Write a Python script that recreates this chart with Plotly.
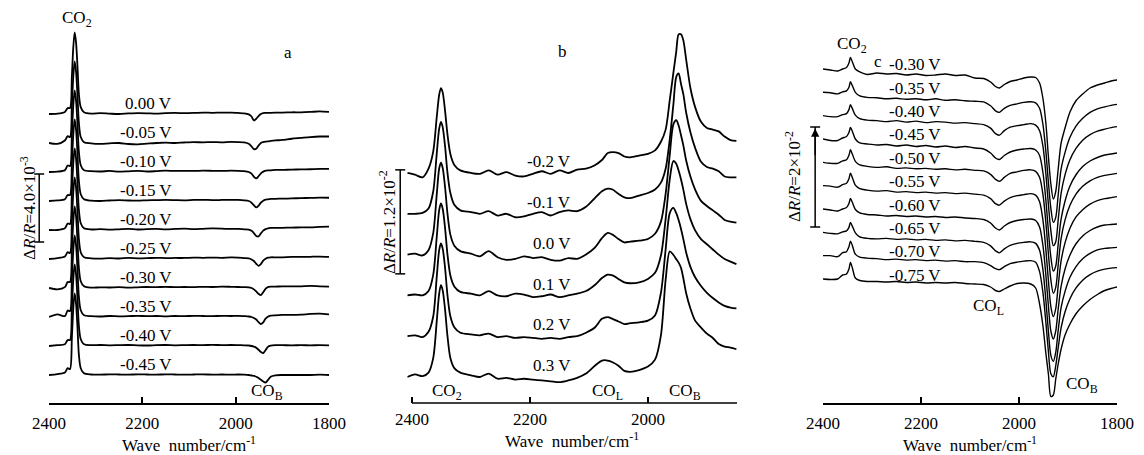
import numpy as np
import plotly.graph_objects as go

# ---------------- data (dR/R in units of 1e-3, relative to each spectrum's own start) ----------------
# Panel a
wn_a = [2400, 2382, 2366, 2360, 2355, 2351, 2348, 2345, 2342, 2339, 2336, 2332, 2325,
        2310, 2290, 2270, 2250, 2230, 2210, 2190, 2170, 2150, 2130, 2110, 2090, 2070, 2050, 2030, 2010, 1995,
        1982, 1972, 1966, 1961, 1956, 1951, 1946, 1941, 1936, 1931, 1925, 1915, 1900, 1880, 1860, 1840, 1820, 1800]
labels_a = ["0.00 V", "-0.05 V", "-0.10 V", "-0.15 V", "-0.20 V",
            "-0.25 V", "-0.30 V", "-0.35 V", "-0.40 V", "-0.45 V"]
a_0p00 = [0.0, 0.02, 0.12, 0.35, 0.35, 2.2, 3.9, 4.8, 4.2, 2.8, 1.2, 0.4, 0.1,
          0.02, 0.05, 0.02, 0.0, 0.03, 0.05, 0.04, 0.02, 0.05, 0.06, 0.05, 0.06, 0.08, 0.07, 0.08, 0.08, 0.06,
          0.04, -0.02, -0.15, -0.38, -0.28, -0.12, 0.0, 0.05, 0.06, 0.06, 0.07, 0.08, 0.08, 0.1, 0.1, 0.12, 0.15, 0.12]
a_m0p05 = [0.0, -0.05, 0.15, 0.4, 0.35, 2.2, 3.9, 4.8, 4.2, 2.8, 1.2, 0.35, 0.05,
           -0.02, -0.05, -0.02, 0.0, -0.06, -0.08, -0.04, 0.0, 0.02, 0.0, 0.03, 0.05, 0.04, 0.05, 0.04, 0.06, 0.05,
           0.03, -0.05, -0.2, -0.36, -0.34, -0.15, 0.0, 0.05, 0.08, 0.1, 0.12, 0.15, 0.18, 0.25, 0.3, 0.35, 0.38, 0.38]
a_m0p10 = [0.0, 0.02, 0.1, 0.38, 0.35, 2.2, 3.9, 4.8, 4.2, 2.8, 1.2, 0.4, 0.1,
           0.05, 0.03, 0.06, 0.02, 0.04, 0.06, 0.03, 0.05, 0.08, 0.06, 0.07, 0.06, 0.08, 0.07, 0.06, 0.08, 0.07,
           0.05, 0.0, -0.1, -0.28, -0.38, -0.25, -0.08, 0.02, 0.08, 0.1, 0.1, 0.12, 0.12, 0.14, 0.15, 0.16, 0.18, 0.18]
a_m0p15 = [0.0, 0.03, 0.1, 0.35, 0.35, 2.2, 3.9, 4.8, 4.2, 2.8, 1.2, 0.4, 0.1,
           0.02, 0.0, 0.03, 0.05, 0.03, 0.02, 0.04, 0.05, 0.06, 0.05, 0.04, 0.06, 0.07, 0.05, 0.06, 0.07, 0.06,
           0.04, 0.0, -0.1, -0.25, -0.38, -0.28, -0.1, 0.02, 0.08, 0.1, 0.12, 0.13, 0.14, 0.15, 0.17, 0.18, 0.2, 0.19]
a_m0p20 = [0.0, 0.0, 0.1, 0.38, 0.35, 2.2, 3.9, 4.8, 4.2, 2.8, 1.2, 0.4, 0.1,
           0.03, 0.05, 0.02, 0.04, 0.06, 0.03, 0.05, 0.06, 0.04, 0.06, 0.08, 0.05, 0.07, 0.09, 0.08, 0.06, 0.07,
           0.04, 0.02, -0.05, -0.18, -0.35, -0.38, -0.2, -0.04, 0.05, 0.1, 0.12, 0.12, 0.13, 0.14, 0.15, 0.15, 0.18, 0.2]
a_m0p25 = [0.0, 0.05, 0.15, 0.4, 0.35, 2.2, 3.9, 4.8, 4.2, 2.8, 1.2, 0.4, 0.1,
           0.04, 0.02, 0.05, 0.03, 0.06, 0.04, 0.05, 0.07, 0.05, 0.06, 0.06, 0.08, 0.07, 0.08, 0.07, 0.09, 0.08,
           0.05, 0.03, -0.03, -0.12, -0.28, -0.4, -0.3, -0.1, 0.02, 0.08, 0.1, 0.1, 0.1, 0.12, 0.12, 0.13, 0.14, 0.12]
a_m0p30 = [0.0, -0.08, 0.05, 0.35, 0.35, 2.2, 3.9, 4.8, 4.2, 2.8, 1.2, 0.4, 0.1,
           0.02, 0.04, 0.03, 0.05, 0.02, 0.04, 0.06, 0.05, 0.07, 0.05, 0.06, 0.05, 0.07, 0.06, 0.08, 0.07, 0.06,
           0.05, 0.04, 0.0, -0.08, -0.2, -0.34, -0.42, -0.25, -0.05, 0.05, 0.08, 0.08, 0.1, 0.1, 0.1, 0.12, 0.1, 0.08]
a_m0p35 = [0.0, 0.15, 0.05, 0.38, 0.35, 2.2, 3.9, 4.8, 4.2, 2.8, 1.2, 0.4, 0.1,
           0.05, 0.03, 0.06, 0.04, 0.05, 0.07, 0.05, 0.06, 0.04, 0.06, 0.05, 0.07, 0.06, 0.05, 0.07, 0.06, 0.07,
           0.05, 0.03, 0.0, -0.06, -0.15, -0.3, -0.42, -0.32, -0.1, 0.02, 0.08, 0.1, 0.12, 0.12, 0.14, 0.18, 0.2, 0.15]
a_m0p40 = [0.0, 0.05, 0.1, 0.35, 0.35, 2.2, 3.9, 4.8, 4.2, 2.8, 1.2, 0.4, 0.1,
           0.05, 0.06, 0.04, 0.05, 0.06, 0.04, 0.03, 0.05, 0.06, 0.04, 0.05, 0.06, 0.05, 0.07, 0.05, 0.06, 0.05,
           0.04, 0.03, 0.0, -0.04, -0.1, -0.22, -0.35, -0.42, -0.25, -0.05, 0.02, 0.05, 0.05, 0.04, 0.05, 0.04, 0.05, 0.04]
a_m0p45 = [0.0, 0.05, 0.15, 0.4, 0.35, 2.2, 3.9, 4.8, 4.2, 2.8, 1.2, 0.4, 0.1,
           0.03, 0.02, 0.04, 0.03, 0.02, 0.04, 0.03, 0.02, 0.04, 0.03, 0.02, 0.03, 0.04, 0.02, 0.03, 0.02, 0.03,
           0.02, 0.0, -0.03, -0.05, -0.1, -0.18, -0.28, -0.38, -0.45, -0.3, -0.1, -0.02, 0.0, 0.0, 0.0, 0.0, 0.02, 0.0]

# Panel b
wn_b = [2408, 2395, 2382, 2372, 2364, 2358, 2354, 2351, 2348, 2344, 2340, 2335, 2328, 2318,
        2300, 2285, 2270, 2255, 2240, 2225, 2210, 2195, 2180, 2165, 2150, 2135, 2120, 2105,
        2090, 2078, 2068, 2060, 2050, 2040, 2030, 2015, 2000, 1988,
        1978, 1970, 1963, 1957, 1952, 1948, 1944, 1940, 1935, 1928, 1920, 1910, 1900, 1890, 1880, 1870, 1860, 1850]
labels_b = ["-0.2 V", "-0.1 V", "0.0 V", "0.1 V", "0.2 V", "0.3 V"]
b_m0p2 = [0.0, -0.2, -0.5, 0.5, 2.5, 6.5, 9.0, 9.8, 9.3, 7.2, 4.5, 2.2, 0.9, 0.3,
          0.0, -0.1, 0.3, -0.2, 0.1, -0.3, -0.4, -0.1, 0.2, -0.1, 0.3, 0.0, 0.4, 0.5,
          0.9, 1.5, 2.3, 2.4, 2.3, 1.9, 1.8, 2.0, 2.2, 2.6,
          3.6, 5.0, 8.4, 11.5, 14.0, 16.0, 16.0, 15.3, 13.0, 9.8, 7.6, 5.9, 5.2, 5.0, 4.8, 4.2, 3.8, 3.7]
b_m0p1 = [0.0, 0.0, 0.1, 0.6, 2.6, 7.0, 9.8, 10.6, 10.0, 7.8, 4.8, 2.4, 1.0, 0.4,
          0.2, 0.0, 0.3, -0.2, 0.0, -0.4, -0.3, 0.0, 0.2, -0.2, 0.2, 0.4, 0.3, 0.8,
          1.8, 2.6, 2.9, 2.8, 2.3, 1.9, 1.8, 2.1, 2.4, 2.8,
          3.6, 5.2, 8.6, 12.5, 15.8, 16.2, 15.0, 13.8, 11.6, 9.4, 7.6, 6.0, 5.4, 5.2, 4.9, 4.3, 4.2, 4.2]
b_0p0 = [0.0, 0.1, -0.1, 0.5, 2.5, 7.0, 9.9, 10.6, 10.0, 7.8, 4.8, 2.3, 1.0, 0.4,
         0.1, -0.2, 0.4, -0.3, -0.6, -0.5, -0.2, -0.4, -0.3, -0.6, -0.7, -0.4, -0.5, 0.0,
         0.8, 1.9, 2.5, 2.3, 1.8, 1.4, 1.5, 1.6, 1.8, 2.4,
         3.8, 7.0, 11.5, 15.0, 15.5, 14.9, 13.8, 12.6, 10.8, 9.0, 7.5, 6.2, 5.6, 5.1, 4.6, 4.0, 3.8, 3.7]
b_0p1 = [0.0, 0.1, 0.0, 0.5, 2.4, 6.8, 9.8, 10.6, 10.0, 7.8, 4.8, 2.3, 1.0, 0.4,
         0.2, 0.0, 0.5, 0.0, -0.1, 0.2, 0.1, -0.2, -0.1, 0.1, -0.2, 0.0, 0.2, 0.5,
         1.2, 2.0, 2.4, 2.3, 1.9, 1.5, 1.4, 1.5, 1.9, 2.6,
         4.6, 8.8, 13.4, 15.5, 15.2, 14.4, 13.4, 12.2, 10.5, 8.8, 7.5, 6.5, 5.9, 5.3, 4.7, 4.2, 3.9, 3.6]
b_0p2 = [0.0, 0.1, -0.1, 0.5, 2.3, 6.9, 9.9, 10.7, 10.1, 7.9, 4.8, 2.3, 1.0, 0.4,
         0.2, 0.1, 0.3, -0.1, 0.0, -0.2, -0.1, -0.2, -0.3, -0.2, -0.3, -0.1, 0.0, 0.4,
         1.0, 2.0, 2.2, 2.0, 1.7, 1.4, 1.5, 1.6, 1.8, 2.4,
         5.0, 10.0, 14.2, 14.8, 14.2, 13.4, 12.4, 11.2, 9.6, 8.0, 6.8, 5.8, 5.0, 4.4, 3.9, 3.5, 3.3, 3.2]
b_0p3 = [0.0, 0.3, 0.1, 0.5, 2.2, 6.5, 9.6, 10.6, 10.0, 7.8, 4.8, 2.2, 1.0, 0.5,
         0.2, 0.0, 0.4, -0.2, -0.1, -0.3, -0.2, -0.3, -0.4, -0.5, -0.6, -0.4, -0.1, 0.4,
         1.3, 1.9, 1.9, 1.7, 1.3, 0.7, 0.6, 0.8, 1.2, 2.0,
         4.8, 11.2, 14.5, 14.1, 13.6, 13.2, 12.6, 11.4, 9.6, 7.9, 6.5, 5.7, 5.0, 4.5, 3.8, 3.5, 3.4, 3.2]

# Panel c
wn_c = [2400, 2385, 2370, 2360, 2352, 2347, 2344, 2340, 2334, 2325,
        2310, 2290, 2270, 2250, 2230, 2210, 2190, 2170, 2150, 2130, 2110, 2090,
        2072, 2058, 2048, 2040, 2030, 2018, 2004, 1990, 1976, 1966,
        1958, 1951, 1945, 1940, 1935, 1930, 1925, 1920, 1914, 1906, 1896, 1884, 1870, 1855, 1840, 1825, 1812, 1800]
labels_c = ["-0.30 V", "-0.35 V", "-0.40 V", "-0.45 V", "-0.50 V",
            "-0.55 V", "-0.60 V", "-0.65 V", "-0.70 V", "-0.75 V"]
c_m0p30 = [0, -0.2, -0.4, 0.0, 0.3, 1.2, 2.3, 1.4, 0.0, -0.6,
           -1.1, -0.8, -1.0, -0.9, -1.2, -1.0, -1.3, -1.2, -1.0, -1.3, -1.2, -1.8,
           -1.9, -2.6, -3.5, -3.8, -3.1, -2.5, -2.2, -1.8, -1.6, -1.7,
           -2.8, -6.0, -11.0, -17.5, -23.0, -26.0, -24.5, -20.0, -14.8, -11.8, -8.6, -6.4, -5.0, -3.8, -3.2, -2.8, -2.4, -2.2]
c_m0p35 = [0, -0.1, -0.3, 0.1, 0.3, 1.0, 2.1, 1.3, 0.0, -0.7,
           -1.0, -1.1, -1.3, -1.2, -1.4, -1.3, -1.5, -1.3, -1.6, -1.5, -1.7, -1.8,
           -1.9, -2.7, -3.7, -4.0, -3.2, -2.6, -2.3, -2.0, -1.9, -2.1,
           -3.2, -6.5, -12.0, -18.0, -23.2, -26.0, -25.0, -20.5, -15.3, -12.0, -9.0, -6.8, -5.2, -4.0, -3.3, -2.9, -2.6, -2.4]
c_m0p40 = [0, -0.2, -0.2, 0.2, 0.4, 1.2, 2.2, 1.4, 0.1, -0.6,
           -0.9, -1.0, -1.2, -1.0, -1.3, -1.1, -1.4, -1.2, -1.3, -1.5, -1.4, -1.6,
           -1.8, -2.5, -3.6, -3.9, -3.0, -2.3, -2.0, -1.8, -1.6, -1.9,
           -3.0, -6.2, -11.8, -17.8, -23.0, -26.0, -25.2, -20.8, -15.5, -11.8, -8.8, -6.6, -4.9, -3.8, -3.1, -2.7, -2.4, -2.2]
c_m0p45 = [0, -0.3, -0.3, 0.2, 0.5, 1.3, 2.3, 1.5, 0.0, -0.8,
           -1.0, -1.2, -1.1, -1.4, -1.2, -1.5, -1.3, -1.6, -1.4, -1.7, -1.5, -1.8,
           -2.0, -2.8, -3.8, -4.1, -3.3, -2.6, -2.2, -2.0, -1.9, -2.2,
           -3.3, -6.8, -12.4, -18.4, -23.6, -26.4, -25.4, -21.0, -16.0, -12.4, -9.4, -7.2, -5.5, -4.4, -3.7, -3.2, -3.0, -2.8]
c_m0p50 = [0, -0.2, -0.2, 0.3, 0.5, 1.4, 2.5, 1.6, 0.2, -0.5,
           -0.8, -1.0, -0.9, -1.2, -1.1, -1.3, -1.2, -1.4, -1.3, -1.5, -1.4, -1.6,
           -1.7, -2.4, -3.4, -3.8, -3.0, -2.2, -1.9, -1.6, -1.5, -1.8,
           -3.0, -6.5, -12.2, -18.3, -23.5, -26.2, -25.0, -20.5, -15.2, -11.5, -8.6, -6.4, -4.8, -3.7, -3.0, -2.6, -2.4, -2.2]
c_m0p55 = [0, -0.1, -0.3, 0.2, 0.5, 1.4, 2.5, 1.6, 0.1, -0.6,
           -0.9, -1.1, -1.0, -1.3, -1.2, -1.4, -1.3, -1.5, -1.4, -1.6, -1.5, -1.7,
           -1.9, -2.6, -3.6, -3.9, -3.1, -2.4, -2.0, -1.8, -1.6, -1.9,
           -3.2, -7.0, -13.0, -19.0, -24.2, -26.2, -24.6, -20.0, -15.0, -11.4, -8.5, -6.3, -4.8, -3.7, -3.0, -2.6, -2.4, -2.2]
c_m0p60 = [0, -0.2, -0.4, 0.0, 0.3, 1.1, 2.1, 1.3, -0.1, -0.8,
           -1.1, -1.2, -1.4, -1.3, -1.5, -1.4, -1.6, -1.5, -1.7, -1.6, -1.8, -1.9,
           -2.1, -2.8, -3.8, -4.2, -3.4, -2.7, -2.3, -2.1, -2.0, -2.3,
           -3.6, -7.4, -13.4, -19.4, -24.4, -26.0, -24.4, -20.0, -15.4, -12.0, -9.2, -7.0, -5.4, -4.3, -3.6, -3.2, -3.1, -3.0]
c_m0p65 = [0, -0.2, -0.3, 0.1, 0.3, 1.0, 2.0, 1.2, -0.1, -0.9,
           -1.2, -1.3, -1.2, -1.4, -1.3, -1.5, -1.4, -1.6, -1.5, -1.7, -1.6, -1.8,
           -2.0, -2.7, -3.7, -4.1, -3.3, -2.6, -2.2, -2.0, -1.9, -2.2,
           -3.6, -7.6, -13.8, -19.8, -24.6, -25.8, -24.0, -19.6, -15.0, -11.8, -9.0, -6.9, -5.3, -4.2, -3.5, -3.2, -3.1, -3.0]
c_m0p70 = [0, 0.0, -0.2, 0.6, 0.8, 1.8, 2.9, 2.0, 0.3, -0.3,
           -0.5, -0.6, -0.8, -0.7, -0.9, -0.8, -1.0, -0.9, -1.1, -1.0, -1.2, -1.2,
           -1.4, -2.0, -2.6, -2.8, -2.2, -1.6, -1.3, -1.1, -1.0, -1.3,
           -3.2, -7.5, -13.5, -19.2, -23.6, -24.2, -22.0, -18.4, -14.4, -11.2, -8.6, -6.5, -4.9, -3.8, -3.1, -2.7, -2.5, -2.4]
c_m0p75 = [0, -0.1, 0.0, 0.8, 1.0, 2.0, 3.3, 2.2, 0.2, -0.3,
           -0.5, -0.5, -0.6, -0.5, -0.7, -0.6, -0.8, -0.7, -0.8, -0.7, -0.9, -1.0,
           -1.1, -1.6, -2.3, -2.5, -2.0, -1.4, -0.9, -0.8, -1.0, -1.8,
           -5.0, -9.5, -15.0, -19.0, -23.5, -23.2, -20.0, -17.0, -14.0, -11.2, -9.0, -7.0, -5.4, -4.1, -3.1, -2.3, -1.9, -1.6]

ticks_a = [2400, 2200, 2000, 1800]
ticks_b = [2400, 2200, 2000, 1849]
ticktext_b = ["2400", "2200", "2000", ""]
ticks_c = [2400, 2200, 2000, 1800]

scale_a, scale_b, scale_c = 4.0, 12.0, 20.0  # x1e-3
# ---------------- layout constants ----------------
FONT = "Liberation Serif"
FS = 17
W, H = 1144, 455
BOTTOM = 52
PH = H - BOTTOM  # plot height in px

rng_a = [2400, 1800]
rng_b = [2408, 1849]
rng_c = [2400, 1800]
dom_a = [49 / W, 329 / W]
dom_b = [407.3 / W, 737 / W]
dom_c = [823 / W, 1117 / W]
yr_a = [0, PH / 17.0]
yr_b = [0, PH / 8.667]
yr_c = [0, PH / 5.0]
BASE_A, STEP_A = 1.647, 1.706
BASE_B, STEP_B = 3.0, 4.708
BASE_C, STEP_C = 24.8, 4.667


def xd(wn, rng):
    return (rng[0] - wn) / (rng[0] - rng[1])


def yd(v, rng):
    return (v - rng[0]) / (rng[1] - rng[0])


fig = go.Figure()

panels = [
    ("x", "y", wn_a, [a_0p00, a_m0p05, a_m0p10, a_m0p15, a_m0p20, a_m0p25, a_m0p30, a_m0p35, a_m0p40, a_m0p45],
     labels_a, BASE_A, STEP_A, 2132, 0.62, 1.8),
    ("x2", "y2", wn_b, [b_m0p2, b_m0p1, b_0p0, b_0p1, b_0p2, b_0p3],
     labels_b, BASE_B, STEP_B, 2127, 1.3, 1.8),
    ("x3", "y3", wn_c, [c_m0p30, c_m0p35, c_m0p40, c_m0p45, c_m0p50, c_m0p55, c_m0p60, c_m0p65, c_m0p70, c_m0p75],
     labels_c, BASE_C, STEP_C, 2155, 0.8, 1.4),
]

annotations = []
shapes = []
for xa, ya, wn, series, labels, base, step, lab_x, lab_dy, lw in panels:
    n = len(series)
    for i, (vals, lab) in enumerate(zip(series, labels)):
        off = base + (n - 1 - i) * step
        fig.add_trace(go.Scatter(
            x=wn, y=np.array(vals) + off, xaxis=xa, yaxis=ya, mode="lines",
            line=dict(color="black", width=lw, shape="spline", smoothing=0.8),
            hoverinfo="skip", showlegend=False))
        annotations.append(dict(x=lab_x, y=off + lab_dy, xref=xa, yref=ya, text=lab,
                                showarrow=False, xanchor="right", yanchor="middle",
                                font=dict(family=FONT, size=FS, color="black")))


def txt(x, y, xref, yref, s, **kw):
    d = dict(x=x, y=y, xref=xref, yref=yref, text=s, showarrow=False,
             xanchor="center", yanchor="middle", font=dict(family=FONT, size=FS, color="black"))
    d.update(kw)
    annotations.append(d)


# band labels & panel letters
txt(2340, 22.6, "x", "y", "CO<sub>2</sub>")
txt(1888, 20.6, "x", "y", "a")
txt(1933, 0.65, "x", "y", "CO<sub>B</sub>")
txt(2145, 40.5, "x2", "y2", "b")
txt(2341, 1.3, "x2", "y2", "CO<sub>2</sub>")
txt(2069, 1.3, "x2", "y2", "CO<sub>L</sub>")
txt(1937, 1.3, "x2", "y2", "CO<sub>B</sub>")
txt(2341, 71.6, "x3", "y3", "CO<sub>2</sub>")
txt(2287, 68.3, "x3", "y3", "c")
txt(2063, 19.3, "x3", "y3", "CO<sub>L</sub>")
txt(1872, 3.6, "x3", "y3", "CO<sub>B</sub>")

# scale bars and their labels
bars = [
    ("x", "y", rng_a, yr_a, 2421, 9.47, scale_a, 0.4667, 2445, "4.0×10<sup>-3</sup>"),
    ("x2", "y2", rng_b, yr_b, 2420, 14.9, scale_b, 0.5898, 2442, "1.2×10<sup>-2</sup>"),
    ("x3", "y3", rng_c, yr_c, 2416, 35.2, scale_c, 0.49, 2461, "2×10<sup>-2</sup>"),
]
for xa, ya, rng, yr, bx, by0, blen, pxpc, tx, s in bars:
    xr, yrf = xa + " domain", ya + " domain"
    half = 5 / pxpc
    x0 = xd(bx, rng)
    y0, y1 = yd(by0, yr), yd(by0 + blen, yr)
    ln = dict(color="black", width=1.5)
    shapes.append(dict(type="line", xref=xr, yref=yrf, x0=x0, x1=x0, y0=y0, y1=y1, line=ln))
    for yy in (y0, y1):
        shapes.append(dict(type="line", xref=xr, yref=yrf, x0=xd(bx + half, rng), x1=xd(bx - half, rng),
                           y0=yy, y1=yy, line=ln))
    annotations.append(dict(x=xd(tx, rng), y=yd(by0 + blen / 2, yr), xref=xr, yref=yrf,
                            text="Δ<i>R</i>/<i>R</i>=" + s, textangle=-90, showarrow=False,
                            xanchor="center", yanchor="middle",
                            font=dict(family=FONT, size=FS, color="black")))

# arrow on panel c scale bar
annotations.append(dict(x=xd(2416, rng_c), y=yd(35.2 + scale_c - 0.3, yr_c), xref="x3 domain", yref="y3 domain",
                        text="", showarrow=True, ax=0, ay=28, arrowhead=2, arrowsize=1.1,
                        arrowwidth=1.5, arrowcolor="black"))

# axis line for panel b (starts at the 2400 tick)
shapes.append(dict(type="line", xref="x2 domain", yref="y2 domain", x0=xd(2400, rng_b), x1=1, y0=0, y1=0,
                   line=dict(color="black", width=1.5)))

axis_common = dict(ticks="inside", ticklen=6, tickwidth=1.5, tickcolor="black",
                   linecolor="black", linewidth=1.5, showgrid=False, zeroline=False,
                   tickfont=dict(family=FONT, size=FS, color="black"), ticklabelstandoff=4,
                   title=dict(text="Wave\u00a0 number/cm<sup>-1</sup>", standoff=2,
                              font=dict(family=FONT, size=FS, color="black")),
                   automargin=False, fixedrange=True)
yaxis_common = dict(visible=False, domain=[0, 1], fixedrange=True)

fig.update_layout(
    width=W, height=H,
    margin=dict(l=0, r=0, t=0, b=BOTTOM, autoexpand=False),
    paper_bgcolor="white", plot_bgcolor="white", showlegend=False,
    font=dict(family=FONT, size=FS, color="black"),
    xaxis=dict(domain=dom_a, range=rng_a, tickvals=ticks_a, anchor="y", showline=True, **axis_common),
    xaxis2=dict(domain=dom_b, range=rng_b, tickvals=ticks_b, ticktext=ticktext_b, anchor="y2",
                showline=False, **axis_common),
    xaxis3=dict(domain=dom_c, range=rng_c, tickvals=ticks_c, anchor="y3", showline=True, **axis_common),
    yaxis=dict(range=yr_a, anchor="x", **yaxis_common),
    yaxis2=dict(range=yr_b, anchor="x2", **yaxis_common),
    yaxis3=dict(range=yr_c, anchor="x3", **yaxis_common),
    annotations=annotations, shapes=shapes,
)

fig.write_html("out.html", config={"displayModeBar": False},
               post_script="document.body.style.margin='0';document.body.style.overflow='hidden';")
